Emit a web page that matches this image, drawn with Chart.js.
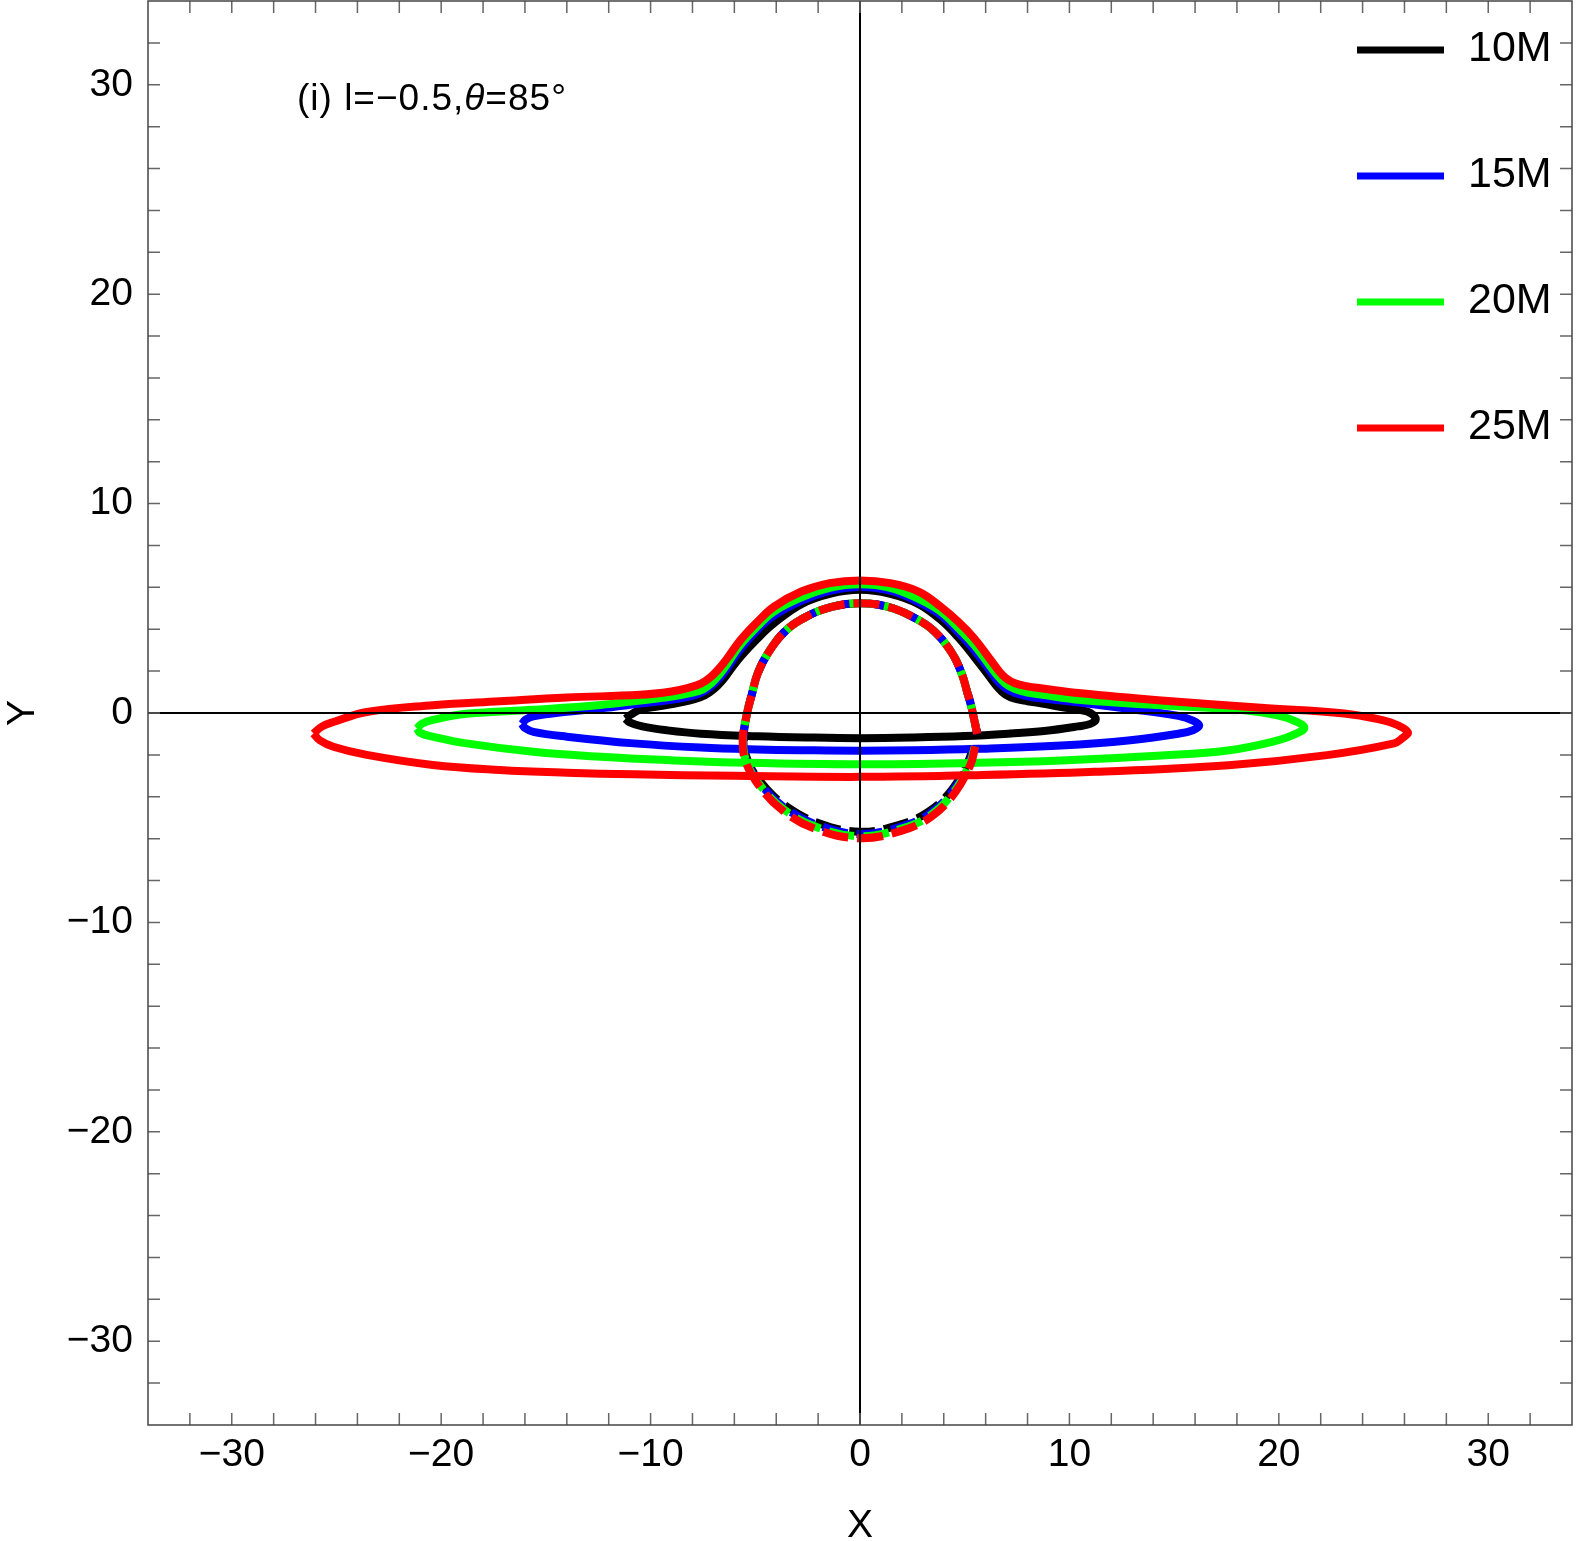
<!DOCTYPE html>
<html>
<head>
<meta charset="utf-8">
<script src="https://cdn.jsdelivr.net/npm/chart.js@4.4.0/dist/chart.umd.min.js"></script>
<style>
  html, body { margin: 0; padding: 0; background: #fff; }
  #wrap { width: 1578px; height: 1541px; }
</style>
</head>
<body>
<div id="wrap"><canvas id="myChart" width="1578" height="1541"></canvas></div>
<script>
// series names and colours
const seriesLabels = ["10M", "15M", "20M", "25M"];
const seriesColors = ["#000000", "#0000ff", "#00ff00", "#ff0000"];

// axis range and tick step
const axisMin = -34;
const axisMax = 34;
const tickStep = 2;
const labelStep = 10;

// direct images (solid), [x, y]
const direct10 = [[-11.2,-0.27],[-10.9,-0.05],[-10.5,0.16],[-9.6,0.32],[-8.6,0.5],[-7.9,0.66],[-7.4,0.85],[-7.0,1.12],[-6.6,1.52],[-6.2,2.05],[-5.7,2.69],[-4.9,3.55],[-4.1,4.29],[-2.8,5.2],[-1.4,5.7],[0,5.88],[1.4,5.7],[2.8,5.2],[3.85,4.45],[4.7,3.6],[5.45,2.69],[6.24,1.66],[6.6,1.2],[6.95,0.88],[7.4,0.68],[8.0,0.56],[8.63,0.46],[10.0,0.22],[10.55,0.14],[11.0,0.0],[11.26,-0.3],[11.0,-0.52],[10.4,-0.64],[8.8,-0.86],[7.2,-0.98],[5.0,-1.1],[2.5,-1.17],[0,-1.2],[-2.5,-1.17],[-4.9,-1.11],[-7.6,-0.99],[-9.2,-0.83],[-10.4,-0.64],[-11.0,-0.45],[-11.2,-0.27]];

const direct15 = [[-16.15,-0.52],[-15.95,-0.3],[-15.6,-0.16],[-14.0,0.06],[-12.4,0.22],[-10.5,0.45],[-9.0,0.63],[-8.0,0.82],[-7.5,1.0],[-7.1,1.28],[-6.7,1.68],[-6.3,2.2],[-5.75,3.0],[-4.95,3.92],[-4.15,4.62],[-2.8,5.35],[-1.4,5.85],[0,6.02],[1.4,5.85],[2.75,5.32],[3.85,4.68],[4.65,3.9],[5.45,3.01],[6.24,1.97],[6.6,1.5],[6.95,1.18],[7.4,0.95],[8.0,0.8],[8.63,0.7],[10.55,0.49],[12.8,0.2],[15.2,-0.14],[15.9,-0.36],[16.2,-0.59],[15.9,-0.82],[15.2,-0.99],[12.8,-1.31],[9.6,-1.55],[5.6,-1.71],[2.5,-1.78],[0,-1.8],[-2.5,-1.78],[-4.9,-1.74],[-7.6,-1.65],[-10.8,-1.45],[-14.0,-1.13],[-15.6,-0.9],[-16.0,-0.72],[-16.15,-0.52]];

const direct20 = [[-21.16,-0.74],[-20.9,-0.5],[-20.4,-0.33],[-18.8,-0.04],[-15.6,0.15],[-12.4,0.38],[-10.5,0.6],[-9.0,0.78],[-8.0,0.97],[-7.5,1.13],[-7.1,1.42],[-6.7,1.85],[-6.3,2.4],[-5.75,3.2],[-4.95,4.08],[-4.15,4.82],[-2.85,5.5],[-1.45,5.98],[0,6.15],[1.45,5.98],[2.8,5.45],[3.85,4.85],[4.7,4.05],[5.45,3.25],[6.24,2.21],[6.6,1.75],[6.95,1.4],[7.4,1.15],[8.0,0.98],[8.63,0.88],[10.55,0.62],[14.4,0.37],[18.35,0.13],[19.95,-0.11],[20.8,-0.4],[21.22,-0.7],[20.8,-1.0],[19.95,-1.31],[17.56,-1.79],[14.4,-2.03],[9.6,-2.27],[5.6,-2.38],[0,-2.45],[-5.4,-2.38],[-9.2,-2.25],[-12.4,-2.09],[-15.6,-1.85],[-18.8,-1.45],[-20.4,-1.13],[-21.0,-0.95],[-21.16,-0.74]];

const direct25 = [[-26.1,-0.98],[-25.7,-0.65],[-25.15,-0.43],[-23.55,0.05],[-20.4,0.37],[-17.2,0.56],[-14.0,0.74],[-10.5,0.87],[-9.0,1.03],[-8.2,1.2],[-7.6,1.4],[-7.15,1.7],[-6.75,2.1],[-6.35,2.6],[-5.7,3.49],[-4.9,4.35],[-4.1,5.08],[-2.8,5.8],[-1.45,6.2],[0,6.33],[1.45,6.2],[2.8,5.8],[3.85,5.08],[4.7,4.35],[5.45,3.57],[6.24,2.53],[6.6,2.05],[6.95,1.68],[7.4,1.42],[8.0,1.27],[8.63,1.18],[10.55,0.94],[14.4,0.6],[19.15,0.25],[23.13,-0.02],[25.0,-0.35],[25.6,-0.55],[26.16,-0.91],[25.9,-1.2],[25.5,-1.45],[22.3,-2.01],[17.6,-2.49],[11.2,-2.81],[5.6,-2.97],[0,-3.05],[-6.0,-3.0],[-10.8,-2.93],[-14.0,-2.85],[-17.2,-2.72],[-20.4,-2.48],[-23.55,-2.0],[-25.15,-1.61],[-25.8,-1.3],[-26.1,-0.98]];

// secondary images (dashed), [x, y]
const second10 = [[5.6,-1.0],[5.45,-0.3],[5.28,0.45],[5.12,1.0],[4.85,1.9],[4.4,2.85],[3.55,3.9],[2.5,4.6],[1.3,5.08],[0,5.24],[-1.3,5.08],[-2.6,4.58],[-3.6,3.88],[-4.4,2.85],[-4.9,1.85],[-5.15,0.94],[-5.39,0],[-5.55,-1.2],[-5.35,-2.3],[-4.7,-3.35],[-3.6,-4.4],[-2.0,-5.25],[0,-5.67],[1.95,-5.32],[3.3,-4.7],[4.4,-3.65],[5.15,-2.35],[5.42,-1.6]];

const second15 = [[5.6,-1.0],[5.45,-0.3],[5.28,0.45],[5.12,1.0],[4.85,1.9],[4.4,2.85],[3.55,3.9],[2.5,4.6],[1.3,5.08],[0,5.24],[-1.3,5.08],[-2.6,4.58],[-3.6,3.88],[-4.4,2.85],[-4.9,1.85],[-5.15,0.94],[-5.39,0],[-5.57,-1.22],[-5.38,-2.32],[-4.74,-3.4],[-3.63,-4.5],[-2.03,-5.35],[0,-5.78],[1.97,-5.42],[3.33,-4.8],[4.43,-3.72],[5.2,-2.4],[5.45,-1.6]];

const second20 = [[5.6,-1.0],[5.45,-0.3],[5.28,0.45],[5.12,1.0],[4.85,1.9],[4.4,2.85],[3.55,3.9],[2.5,4.6],[1.3,5.08],[0,5.24],[-1.3,5.08],[-2.6,4.58],[-3.6,3.88],[-4.4,2.85],[-4.9,1.85],[-5.15,0.94],[-5.39,0],[-5.59,-1.24],[-5.42,-2.34],[-4.77,-3.45],[-3.67,-4.58],[-2.07,-5.45],[0,-5.88],[1.98,-5.52],[3.37,-4.88],[4.47,-3.79],[5.24,-2.43],[5.48,-1.6]];

const second25 = [[5.6,-1.0],[5.45,-0.3],[5.28,0.45],[5.12,1.0],[4.85,1.9],[4.4,2.85],[3.55,3.9],[2.5,4.6],[1.3,5.08],[0,5.24],[-1.3,5.08],[-2.6,4.58],[-3.6,3.88],[-4.4,2.85],[-4.9,1.85],[-5.15,0.94],[-5.39,0],[-5.6,-1.25],[-5.45,-2.35],[-4.8,-3.5],[-3.7,-4.65],[-2.1,-5.55],[0,-5.98],[2.0,-5.62],[3.4,-4.95],[4.5,-3.85],[5.28,-2.45],[5.5,-1.6]];

const directSets = [direct10, direct15, direct20, direct25];
const secondSets = [second10, second15, second20, second25];
// dash phase per series, so the stacked dashed rings show colour bits
const dashOffsets = [15, 5, 31, 0];

const LINE_W = 8;

const toPoints = (pairs) => pairs.map((p) => ({ x: p[0], y: p[1] }));

const FONT = '"Liberation Sans", Arial, sans-serif';

const datasets = [];
seriesLabels.forEach((label, i) => {
  // red on top, black at the bottom
  const order = seriesLabels.length - 1 - i;
  datasets.push({
    label: label,
    data: toPoints(directSets[i]),
    showLine: true,
    borderColor: seriesColors[i],
    backgroundColor: seriesColors[i],
    borderWidth: LINE_W,
    pointRadius: 0,
    tension: 0.4,
    order: order
  });
  datasets.push({
    label: label + " secondary",
    data: toPoints(secondSets[i]),
    showLine: true,
    borderColor: seriesColors[i],
    backgroundColor: seriesColors[i],
    borderWidth: LINE_W,
    borderDash: [26, 9],
    borderDashOffset: dashOffsets[i],
    pointRadius: 0,
    tension: 0.4,
    order: order
  });
});

const fmtTick = (v) => {
  if (v % labelStep !== 0) return "";
  return v < 0 ? "\u2212" + Math.abs(v) : String(v);
};

// frame, inward ticks, axes through origin, note and legend
const framePlugin = {
  id: "frame",
  afterDatasetsDraw(chart) {
    const c = chart.ctx;
    const a = chart.chartArea;
    const xs = chart.scales.x;
    const ys = chart.scales.y;
    c.save();

    // axes through the origin
    c.strokeStyle = "#000";
    c.lineWidth = 2;
    const x0 = xs.getPixelForValue(0);
    const y0 = ys.getPixelForValue(0);
    c.beginPath();
    c.moveTo(x0, a.top); c.lineTo(x0, a.bottom);
    c.moveTo(a.left, y0); c.lineTo(a.right, y0);
    c.stroke();

    // ticks
    c.strokeStyle = "#666";
    c.lineWidth = 1.5;
    const tl = 12;
    c.beginPath();
    xs.ticks.forEach((t) => {
      if (t.value <= axisMin || t.value >= axisMax) return;
      const p = xs.getPixelForValue(t.value);
      c.moveTo(p, a.bottom); c.lineTo(p, a.bottom - tl);
      c.moveTo(p, a.top); c.lineTo(p, a.top + tl);
    });
    ys.ticks.forEach((t) => {
      if (t.value <= axisMin || t.value >= axisMax) return;
      const p = ys.getPixelForValue(t.value);
      c.moveTo(a.left, p); c.lineTo(a.left + tl, p);
      c.moveTo(a.right, p); c.lineTo(a.right - tl, p);
    });
    c.stroke();

    // frame
    c.strokeStyle = "#444";
    c.lineWidth = 1.5;
    c.strokeRect(a.left, a.top, a.right - a.left, a.bottom - a.top);

    // note
    c.fillStyle = "#000";
    c.textBaseline = "alphabetic";
    c.textAlign = "left";
    c.letterSpacing = "1px";
    let tx = 297;
    const ty = 110;
    c.font = "37px " + FONT;
    const p1 = "(i) l=\u22120.5,";
    c.fillText(p1, tx, ty);
    tx += c.measureText(p1).width;
    c.font = "italic 37px " + FONT;
    c.fillText("\u03b8", tx, ty);
    tx += c.measureText("\u03b8").width;
    c.font = "37px " + FONT;
    c.fillText("=85\u00b0", tx, ty);
    c.letterSpacing = "0px";

    // legend
    const legY = [50, 176, 302, 428];
    c.font = "43px " + FONT;
    c.textBaseline = "middle";
    seriesLabels.forEach((lab, i) => {
      c.strokeStyle = seriesColors[i];
      c.lineWidth = 7;
      c.beginPath();
      c.moveTo(1357, legY[i]);
      c.lineTo(1444, legY[i]);
      c.stroke();
      c.fillStyle = "#000";
      c.fillText(lab, 1468, legY[i] - 1);
    });

    c.restore();
  }
};

const ctx = document.getElementById("myChart");
new Chart(ctx, {
  type: "scatter",
  data: { datasets: datasets },
  options: {
    responsive: false,
    animation: false,
    devicePixelRatio: 1,
    elements: {
      line: { borderWidth: LINE_W, borderCapStyle: "butt", borderJoinStyle: "round" },
      point: { radius: 0 }
    },
    layout: { padding: { top: 1, right: 6, left: 0, bottom: 0 } },
    plugins: {
      legend: { display: false },
      tooltip: { enabled: false }
    },
    events: [],
    scales: {
      x: {
        type: "linear",
        position: "bottom",
        min: axisMin,
        max: axisMax,
        grid: { display: false, drawTicks: false },
        border: { display: false },
        ticks: {
          stepSize: tickStep,
          autoSkip: false,
          maxRotation: 0,
          padding: 7,
          color: "#000",
          font: { family: FONT, size: 39 },
          callback: fmtTick
        },
        title: {
          display: true,
          text: "X",
          color: "#000",
          padding: 0,
          font: { family: FONT, size: 39, lineHeight: 0.78 }
        },
        afterFit: (s) => { s.height = 116; s.paddingLeft = 0; s.paddingRight = 0; }
      },
      y: {
        type: "linear",
        position: "left",
        min: axisMin,
        max: axisMax,
        grid: { display: false, drawTicks: false },
        border: { display: false },
        ticks: {
          stepSize: tickStep,
          autoSkip: false,
          padding: 15,
          color: "#000",
          font: { family: FONT, size: 39 },
          callback: fmtTick
        },
        title: {
          display: true,
          text: "Y",
          color: "#000",
          padding: 0,
          font: { family: FONT, size: 39, lineHeight: 1.2 }
        },
        afterFit: (s) => { s.width = 148; s.paddingTop = 0; s.paddingBottom = 0; }
      }
    }
  },
  plugins: [framePlugin]
});
</script>
</body>
</html>
